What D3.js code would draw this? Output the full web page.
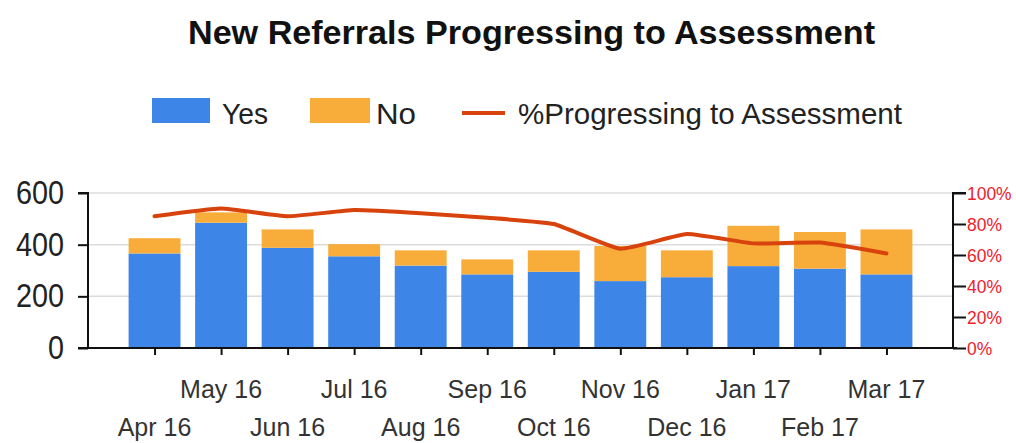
<!DOCTYPE html>
<html>
<head>
<meta charset="utf-8">
<script src="https://cdn.jsdelivr.net/npm/d3@7"></script>
<style>
  html, body { margin: 0; padding: 0; background: #fff; }
  svg { display: block; }
  text { font-family: "Liberation Sans", Arial, sans-serif; }
</style>
</head>
<body>
<svg id="chart" width="1016" height="443"></svg>
<script>
// ---- data ----
const months = ["Apr 16","May 16","Jun 16","Jul 16","Aug 16","Sep 16","Oct 16","Nov 16","Dec 16","Jan 17","Feb 17","Mar 17"];
const yesValues = [366, 485, 388, 355, 319, 285, 295, 259, 274, 317, 307, 285];
const noValues  = [59, 40, 71, 47, 59, 58, 83, 136, 104, 156, 142, 174];
const pctValues = [85, 90, 85, 89, 87, 84, 80, 64, 73.5, 67.5, 68, 61];
const leftTicks = [0, 200, 400, 600];
const rightTicks = [0, 20, 40, 60, 80, 100];
const seriesNames = ["Yes", "No", "%Progressing to Assessment"];
const titleText = "New Referrals Progressing to Assessment";

// ---- style ----
const C_YES = "#3d86e8", C_NO = "#f8ad3b", C_LINE = "#d8420c";
const svg = d3.select("#chart");
const L = 88, R = 953, B = 348, T = 193;

const x = d3.scalePoint().domain(months).range([L, R]).padding(1);
const bw = x.step() * 0.78;
const yL = d3.scaleLinear().domain([0, 600]).range([B, T]);
const yR = d3.scaleLinear().domain([0, 100]).range([B, T]);

// title
svg.append("text").attr("x", 188).attr("y", 44)
  .attr("font-size", 33).attr("font-weight", "bold").attr("fill", "#111")
  .attr("textLength", 687).attr("lengthAdjust", "spacingAndGlyphs")
  .text(titleText);

// legend
const lg = svg.append("g");
lg.append("rect").attr("x", 152).attr("y", 98).attr("width", 58).attr("height", 25).attr("fill", C_YES);
lg.append("text").attr("x", 222).attr("y", 124).attr("font-size", 29).attr("fill", "#222")
  .attr("textLength", 46).attr("lengthAdjust", "spacingAndGlyphs").text(seriesNames[0]);
lg.append("rect").attr("x", 310).attr("y", 98).attr("width", 60).attr("height", 25).attr("fill", C_NO);
lg.append("text").attr("x", 376).attr("y", 124).attr("font-size", 29).attr("fill", "#222")
  .attr("textLength", 40).attr("lengthAdjust", "spacingAndGlyphs").text(seriesNames[1]);
lg.append("line").attr("x1", 462).attr("x2", 505).attr("y1", 113).attr("y2", 113)
  .attr("stroke", C_LINE).attr("stroke-width", 4);
lg.append("text").attr("x", 518).attr("y", 124).attr("font-size", 29).attr("fill", "#222")
  .attr("textLength", 384).attr("lengthAdjust", "spacingAndGlyphs").text(seriesNames[2]);

// gridlines
svg.append("g").selectAll("line").data(leftTicks.filter(d => d > 0)).join("line")
  .attr("x1", L).attr("x2", R).attr("y1", d => yL(d)).attr("y2", d => yL(d))
  .attr("stroke", "#dcdcdc").attr("stroke-width", 1.5);

// bars
const bars = svg.append("g");
bars.selectAll("rect.yes").data(months).join("rect").attr("class", "yes")
  .attr("x", d => x(d) - bw / 2).attr("width", bw)
  .attr("y", (d, i) => yL(yesValues[i])).attr("height", (d, i) => yL(0) - yL(yesValues[i]))
  .attr("fill", C_YES);
bars.selectAll("rect.no").data(months).join("rect").attr("class", "no")
  .attr("x", d => x(d) - bw / 2).attr("width", bw)
  .attr("y", (d, i) => yL(yesValues[i] + noValues[i])).attr("height", (d, i) => yL(yesValues[i]) - yL(yesValues[i] + noValues[i]))
  .attr("fill", C_NO);

// line
const line = d3.line().x((d, i) => x(months[i])).y(d => yR(d)).curve(d3.curveCardinal.tension(0.6));
svg.append("path").datum(pctValues).attr("d", line)
  .attr("fill", "none").attr("stroke", C_LINE).attr("stroke-width", 4)
  .attr("stroke-linejoin", "round").attr("stroke-linecap", "round");

// left axis
const la = svg.append("g").attr("transform", `translate(${L},0)`)
  .call(d3.axisLeft(yL).tickValues(leftTicks).tickSize(10).tickPadding(14).tickFormat(d3.format("d")));
la.select(".domain").attr("stroke", "#111").attr("stroke-width", 2).attr("d", `M-10,${T}H0V${B}`);
la.selectAll(".tick line").attr("stroke", "#111").attr("stroke-width", 2);
la.selectAll(".tick text").attr("font-size", 33).attr("fill", "#222")
  .attr("font-family", "Liberation Sans, Arial, sans-serif")
  .attr("textLength", d => String(d).length * 16).attr("lengthAdjust", "spacingAndGlyphs");

// right axis
const ra = svg.append("g").attr("transform", `translate(${R},0)`)
  .call(d3.axisRight(yR).tickValues(rightTicks).tickSize(13).tickPadding(1).tickFormat(d => d + "%"));
ra.select(".domain").attr("stroke", "#111").attr("stroke-width", 2).attr("d", `M13,${T}H0V${B}`);
ra.selectAll(".tick line").attr("stroke", "#111").attr("stroke-width", 2);
ra.selectAll(".tick text").attr("font-size", 19).attr("fill", "#f0202a")
  .attr("font-family", "Liberation Sans, Arial, sans-serif")
  .attr("textLength", d => (String(d).length * 9.7 + 15.5)).attr("lengthAdjust", "spacingAndGlyphs");

// bottom axis
const ba = svg.append("g").attr("transform", `translate(0,${B})`)
  .call(d3.axisBottom(x).tickSize(7).tickFormat(""));
ba.select(".domain").attr("stroke", "#111").attr("stroke-width", 2).attr("d", `M${L - 10},0H${R + 4}`);
ba.selectAll(".tick line").attr("stroke", "#111").attr("stroke-width", 2);

// x labels staggered in two rows
svg.append("g").selectAll("text").data(months).join("text")
  .attr("x", d => x(d)).attr("y", (d, i) => i % 2 === 1 ? 398 : 436)
  .attr("text-anchor", "middle").attr("font-size", 25).attr("fill", "#333")
  .text(d => d);
</script>
</body>
</html>
